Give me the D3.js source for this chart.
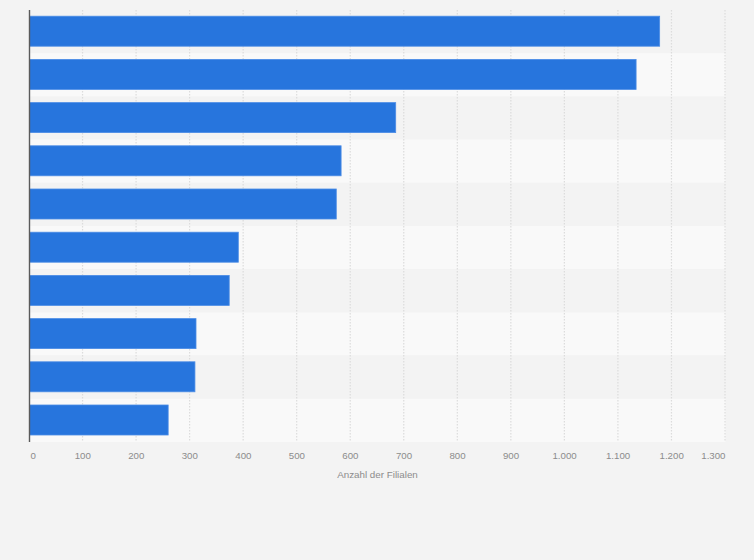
<!DOCTYPE html>
<html><head><meta charset="utf-8">
<script src="https://cdnjs.cloudflare.com/ajax/libs/d3/7.8.5/d3.min.js"></script>
<style>html,body{margin:0;padding:0;background:#f3f3f3}svg{display:block}text{font-family:"Liberation Sans",Arial,sans-serif}</style>
</head><body><svg id="c" width="754" height="560"></svg>
<script>
const ranks = [1,2,3,4,5,6,7,8,9,10];
const filialen = [1177,1133,684,582,573,390,373,311,309,259];
const tickValues = [0,100,200,300,400,500,600,700,800,900,1000,1100,1200,1300];
const axisTitle = "Anzahl der Filialen";

const svg = d3.select("#c");
const x = d3.scaleLinear().domain([0,1300]).range([29.5,725.5]);
const y = d3.scaleBand().domain(ranks).range([10,442]).paddingInner(0).paddingOuter(0);
const barH = 30;
const fmt = v => d3.format(",")(v).replace(/,/g,".");

svg.append("g").selectAll("rect").data(ranks).join("rect")
  .attr("x",29.5).attr("width",696).attr("y",d=>y(d)).attr("height",y.bandwidth())
  .attr("fill",(d,i)=>i%2? "#f9f9f9":"#f3f3f3");

svg.append("g").selectAll("line").data(tickValues.slice(1)).join("line")
  .attr("x1",d=>x(d)-0.5).attr("x2",d=>x(d)-0.5).attr("y1",10).attr("y2",442)
  .attr("stroke","#dcdcdc").attr("stroke-width",1.2).attr("stroke-dasharray","1.5 1.5");

svg.append("g").selectAll("rect").data(filialen).join("rect")
  .attr("x",x(0)).attr("y",(d,i)=>y(ranks[i])+(y.bandwidth()-barH)/2-0.4)
  .attr("width",d=>x(d)-x(0)).attr("height",barH)
  .attr("fill","#2775dd").attr("stroke","#4c8de6").attr("stroke-width",0.8);

svg.append("line").attr("x1",x(0)).attr("x2",x(0)).attr("y1",10).attr("y2",442)
  .attr("stroke","#5a5a5a").attr("stroke-width",1.4);

svg.append("g").selectAll("text").data(tickValues).join("text")
  .attr("x",d=>d===0?x(0)+1:d===1300?x(d):x(d)-0.3)
  .attr("y",459).attr("font-size",9.7).attr("fill","#8c8c8c")
  .attr("text-anchor",d=>d===0?"start":d===1300?"end":"middle")
  .text(fmt);

svg.append("text").attr("x",377.5).attr("y",478).attr("text-anchor","middle")
  .attr("font-size",9.8).attr("fill","#8c8c8c").text(axisTitle);
</script></body></html>
